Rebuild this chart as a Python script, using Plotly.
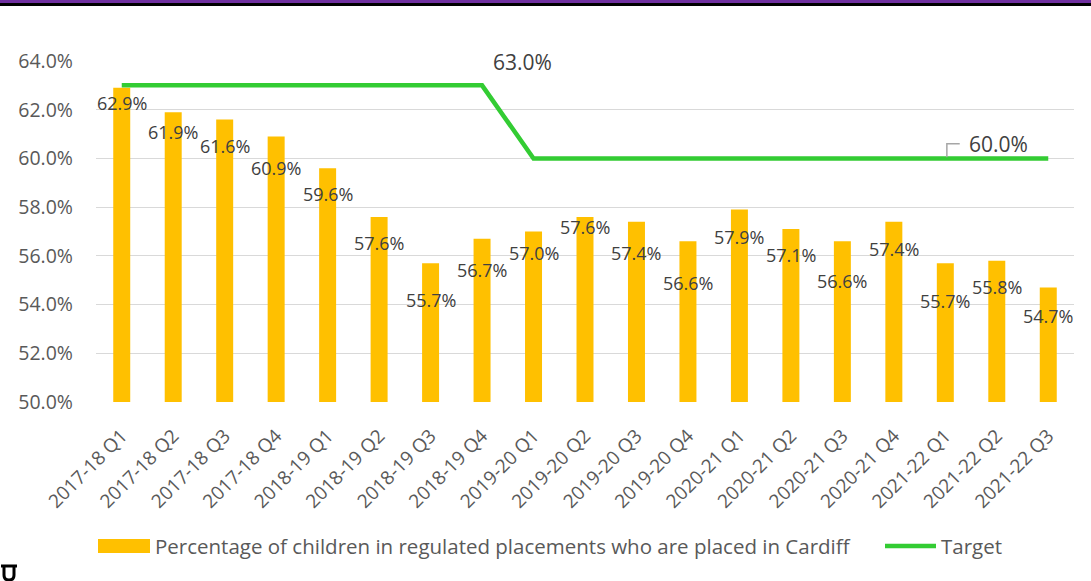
import plotly.graph_objects as go

categories = ["2017-18 Q1", "2017-18 Q2", "2017-18 Q3", "2017-18 Q4",
              "2018-19 Q1", "2018-19 Q2", "2018-19 Q3", "2018-19 Q4",
              "2019-20 Q1", "2019-20 Q2", "2019-20 Q3", "2019-20 Q4",
              "2020-21 Q1", "2020-21 Q2", "2020-21 Q3", "2020-21 Q4",
              "2021-22 Q1", "2021-22 Q2", "2021-22 Q3"]
placed_in_cardiff = [62.9, 61.9, 61.6, 60.9, 59.6, 57.6, 55.7, 56.7,
                     57.0, 57.6, 57.4, 56.6, 57.9, 57.1, 56.6, 57.4,
                     55.7, 55.8, 54.7]
target = [63.0] * 8 + [60.0] * 11
y_ticks = [50, 52, 54, 56, 58, 60, 62, 64]

# style: downward pixel offset of each bar's data label from the bar top
label_dy = [15, 20, 27, 31, 26, 26, 37, 31, 21, 10, 31, 42, 27, 26, 40, 27, 38, 26, 28]

FONT = "Open Sans"
BAR_COLOR = "#FFC000"
LINE_COLOR = "#33CC33"
TEXT_COLOR = "#404040"
TICK_COLOR = "#595959"

W, H = 1091, 581
L, R, T, B = 96, 1074, 61, 402


def px(x):
    return (x - L) / (R - L)


def py(y):
    return (B - y) / (B - T)


fig = go.Figure()
fig.add_trace(go.Bar(
    x=list(range(len(categories))), y=placed_in_cardiff,
    marker=dict(color=BAR_COLOR, line=dict(width=0)),
    width=0.33, base=0, showlegend=False,
    name="Percentage of children in regulated placements who are placed in Cardiff",
))
fig.add_trace(go.Scatter(
    x=list(range(len(categories))), y=target, mode="lines",
    line=dict(color=LINE_COLOR, width=4.5), showlegend=False, name="Target",
))

annotations = []
for i, (v, dy) in enumerate(zip(placed_in_cardiff, label_dy)):
    annotations.append(dict(
        x=i, y=v, xref="x", yref="y", text=f"{v:.1f}%", showarrow=False,
        yshift=-dy, font=dict(family=FONT, size=18, color=TEXT_COLOR),
    ))

# target labels
annotations.append(dict(x=7.78, y=target[7], xref="x", yref="y", text=f"{target[7]:.1f}%",
                        showarrow=False, yshift=23,
                        font=dict(family=FONT, size=21, color=TEXT_COLOR)))
annotations.append(dict(x=17.04, y=target[-1], xref="x", yref="y", text=f"{target[-1]:.1f}%",
                        showarrow=False, yshift=14,
                        font=dict(family=FONT, size=21, color=TEXT_COLOR)))

# legend (drawn manually to match the wide swatches)
legend_y = py(546)
annotations.append(dict(x=px(153), y=legend_y, xref="paper", yref="paper",
                        xanchor="left", yanchor="middle", showarrow=False,
                        text="Percentage of children in regulated placements who are placed in Cardiff",
                        font=dict(family=FONT, size=20.5, color=TICK_COLOR)))
annotations.append(dict(x=px(939), y=legend_y, xref="paper", yref="paper",
                        xanchor="left", yanchor="middle", showarrow=False,
                        text="Target", font=dict(family=FONT, size=20.5, color=TICK_COLOR)))

shapes = [
    # legend swatches
    dict(type="rect", xref="paper", yref="paper", x0=px(98), x1=px(150),
         y0=py(553), y1=py(539), fillcolor=BAR_COLOR, line=dict(width=0)),
    dict(type="line", xref="paper", yref="paper", x0=px(885), x1=px(936),
         y0=legend_y, y1=legend_y, line=dict(color=LINE_COLOR, width=4.5)),
    # leader line for 60.0% label
    dict(type="path", xref="x", yref="y",
         path="M 16.03,60.05 L 16.03,60.6 L 16.28,60.6",
         line=dict(color="#A6A6A6", width=1.5)),
    # top banner
    dict(type="rect", xref="paper", yref="paper", x0=px(0), x1=px(W),
         y0=py(3), y1=py(0), fillcolor="#7030A0", line=dict(width=0)),
    dict(type="rect", xref="paper", yref="paper", x0=px(0), x1=px(W),
         y0=py(6), y1=py(3), fillcolor="#000000", line=dict(width=0)),
    # cropped glyph at bottom-left
    dict(type="path", xref="paper", yref="paper",
         path=f"M {px(1)},{py(566)} L {px(17)},{py(566)} M {px(4)},{py(566)} L {px(4)},{py(575)} "
              f"Q {px(4)},{py(580)} {px(9)},{py(580)} Q {px(14)},{py(580)} {px(14)},{py(575)} "
              f"L {px(14)},{py(566)}",
         line=dict(color="#000000", width=3)),
]

fig.update_layout(
    width=W, height=H,
    margin=dict(l=L, r=W - R, t=T, b=H - B, pad=0),
    paper_bgcolor="white", plot_bgcolor="white",
    showlegend=False,
    annotations=annotations,
    shapes=shapes,
    xaxis=dict(
        range=[-0.5, len(categories) - 0.5],
        tickmode="array", tickvals=list(range(len(categories))), ticktext=categories,
        tickangle=-45, showgrid=False, zeroline=False, showline=False, ticks="",
        tickfont=dict(family=FONT, size=19, color=TICK_COLOR),
        ticklabelstandoff=18,
        fixedrange=True,
    ),
    yaxis=dict(
        range=[50, 64], tickmode="array", tickvals=y_ticks,
        ticktext=[f"{t:.1f}%" for t in y_ticks],
        showgrid=True, gridcolor="#D9D9D9", gridwidth=1.2,
        zeroline=False, showline=False, ticks="",
        ticklabelstandoff=22,
        tickfont=dict(family=FONT, size=19.5, color=TICK_COLOR),
        fixedrange=True,
    ),
)

fig.write_html("out.html", config={"displayModeBar": False},
               post_script="document.body.style.margin='0';document.body.style.overflow='hidden';")
